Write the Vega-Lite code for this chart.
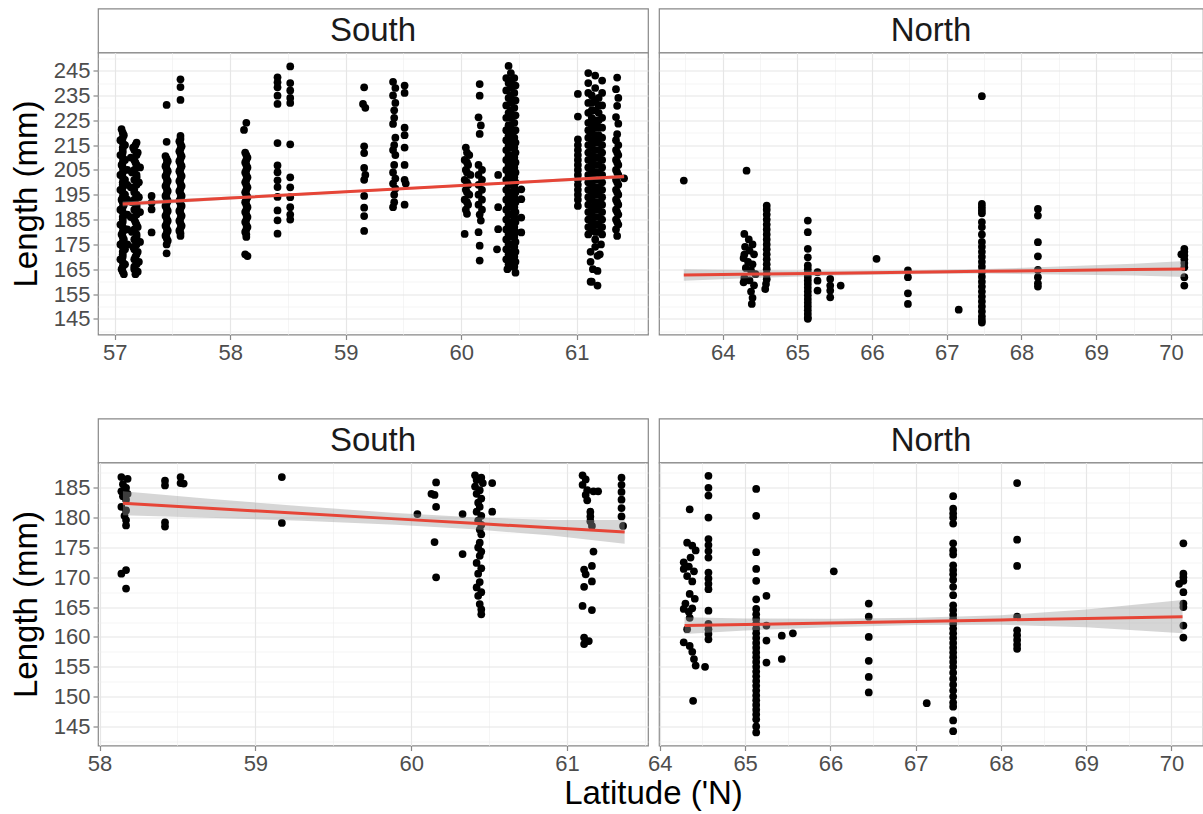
{
"$schema": "https://vega.github.io/schema/vega-lite/v6.json",
"padding": {"left": 9, "top": 7.5, "right": 0, "bottom": 0},
"background": "white",
"config": {
  "font": "Liberation Sans",
  "view": {"stroke": "#888888", "strokeWidth": 1.2, "fill": "white"},
  "axis": {"labelFont": "Liberation Sans", "labelFontSize": 22, "labelColor": "#4d4d4d", "tickColor": "#888888", "tickSize": 5, "tickWidth": 1.2, "domain": false, "grid": true, "labelOverlap": false, "labelFlush": false, "labelPadding": 3, "titleFont": "Liberation Sans", "titleFontSize": 33, "titleFontWeight": "normal", "titleColor": "#000000"}
},
"datasets": {
"tl": [
{"lat":57.06,"len":221.4},{"lat":57.08,"len":219},{"lat":57.05,"len":217},{"lat":57.09,"len":215},{"lat":57.07,"len":213},{"lat":57.05,"len":211},{"lat":57.09,"len":209},{"lat":57.06,"len":207},{"lat":57.08,"len":205},{"lat":57.05,"len":203},{"lat":57.09,"len":201},{"lat":57.07,"len":199},{"lat":57.05,"len":197},{"lat":57.09,"len":195},{"lat":57.06,"len":193},{"lat":57.08,"len":191},{"lat":57.05,"len":189},{"lat":57.09,"len":187},{"lat":57.07,"len":185},{"lat":57.05,"len":183},{"lat":57.09,"len":181},{"lat":57.06,"len":179},{"lat":57.08,"len":177},{"lat":57.05,"len":175},{"lat":57.09,"len":173},{"lat":57.07,"len":171},{"lat":57.05,"len":169},{"lat":57.09,"len":167},{"lat":57.06,"len":165},{"lat":57.08,"len":163},
{"lat":57.07,"len":164},{"lat":57.07,"len":166},{"lat":57.07,"len":168},{"lat":57.07,"len":170},{"lat":57.07,"len":172},{"lat":57.07,"len":174},{"lat":57.07,"len":176},{"lat":57.07,"len":178},{"lat":57.07,"len":180},{"lat":57.07,"len":182},{"lat":57.07,"len":184},{"lat":57.07,"len":186},{"lat":57.07,"len":188},{"lat":57.07,"len":190},{"lat":57.07,"len":192},{"lat":57.07,"len":194},{"lat":57.07,"len":196},{"lat":57.07,"len":198},{"lat":57.07,"len":200},{"lat":57.07,"len":202},{"lat":57.07,"len":204},{"lat":57.07,"len":206},{"lat":57.07,"len":208},{"lat":57.07,"len":210},{"lat":57.07,"len":212},{"lat":57.07,"len":214},{"lat":57.07,"len":216},{"lat":57.07,"len":218},{"lat":57.07,"len":220},
{"lat":57.19,"len":216},{"lat":57.16,"len":214},{"lat":57.2,"len":212},{"lat":57.14,"len":210},{"lat":57.18,"len":208},{"lat":57.22,"len":206},{"lat":57.15,"len":204},{"lat":57.19,"len":202},{"lat":57.21,"len":200},{"lat":57.14,"len":198},{"lat":57.17,"len":196},{"lat":57.21,"len":194},{"lat":57.15,"len":192},{"lat":57.19,"len":190},{"lat":57.22,"len":188},{"lat":57.14,"len":186},{"lat":57.18,"len":184},{"lat":57.2,"len":182},{"lat":57.15,"len":180},{"lat":57.19,"len":178},{"lat":57.22,"len":176},{"lat":57.16,"len":174},{"lat":57.2,"len":172},{"lat":57.18,"len":170},{"lat":57.21,"len":168},{"lat":57.17,"len":166},{"lat":57.2,"len":164},{"lat":57.18,"len":163},
{"lat":57.17,"len":165},{"lat":57.19,"len":167},{"lat":57.17,"len":169},{"lat":57.19,"len":171},{"lat":57.17,"len":173},{"lat":57.19,"len":175},{"lat":57.17,"len":177},{"lat":57.19,"len":179},{"lat":57.17,"len":181},{"lat":57.19,"len":183},{"lat":57.17,"len":185},{"lat":57.19,"len":187},{"lat":57.17,"len":189},{"lat":57.19,"len":191},{"lat":57.17,"len":193},{"lat":57.19,"len":195},{"lat":57.17,"len":197},{"lat":57.19,"len":199},{"lat":57.17,"len":201},{"lat":57.19,"len":203},{"lat":57.17,"len":205},{"lat":57.19,"len":207},{"lat":57.17,"len":209},{"lat":57.19,"len":211},{"lat":57.17,"len":213},{"lat":57.18,"len":215},
{"lat":57.11,"len":205},{"lat":57.11,"len":199},{"lat":57.11,"len":193},{"lat":57.11,"len":187},{"lat":57.11,"len":181},{"lat":57.11,"len":175},
{"lat":57.32,"len":194.5},{"lat":57.32,"len":191.8},{"lat":57.32,"len":189.1},{"lat":57.32,"len":179.8},
{"lat":57.45,"len":231.2},{"lat":57.45,"len":216.3},{"lat":57.44,"len":210.6},{"lat":57.46,"len":208.5},{"lat":57.44,"len":206.5},{"lat":57.46,"len":204.5},{"lat":57.44,"len":202.5},{"lat":57.46,"len":200.5},{"lat":57.44,"len":198.5},{"lat":57.46,"len":196.5},{"lat":57.44,"len":194.5},{"lat":57.46,"len":192.5},{"lat":57.44,"len":190.5},{"lat":57.46,"len":188.5},{"lat":57.44,"len":186.5},{"lat":57.46,"len":184.5},{"lat":57.44,"len":182.5},{"lat":57.46,"len":180.5},{"lat":57.44,"len":178.5},{"lat":57.46,"len":176.5},{"lat":57.45,"len":175},{"lat":57.45,"len":171.4},
{"lat":57.45,"len":209.5},{"lat":57.45,"len":207.5},{"lat":57.45,"len":205.5},{"lat":57.45,"len":203.5},{"lat":57.45,"len":201.5},{"lat":57.45,"len":199.5},{"lat":57.45,"len":197.5},{"lat":57.45,"len":195.5},{"lat":57.45,"len":193.5},{"lat":57.45,"len":191.5},{"lat":57.45,"len":189.5},{"lat":57.45,"len":187.5},{"lat":57.45,"len":185.5},{"lat":57.45,"len":183.5},{"lat":57.45,"len":181.5},{"lat":57.45,"len":179.5},{"lat":57.45,"len":177.5},
{"lat":57.57,"len":241.5},{"lat":57.57,"len":238.4},{"lat":57.57,"len":233.2},{"lat":57.57,"len":218.7},{"lat":57.56,"len":216.5},{"lat":57.58,"len":214.5},{"lat":57.56,"len":212.5},{"lat":57.58,"len":210.5},{"lat":57.56,"len":208.5},{"lat":57.58,"len":206.5},{"lat":57.56,"len":204.5},{"lat":57.58,"len":202.5},{"lat":57.56,"len":200.5},{"lat":57.58,"len":198.5},{"lat":57.56,"len":196.5},{"lat":57.58,"len":194.5},{"lat":57.56,"len":192.5},{"lat":57.58,"len":190.5},{"lat":57.56,"len":188.5},{"lat":57.58,"len":186.5},{"lat":57.56,"len":184.5},{"lat":57.58,"len":182.5},{"lat":57.56,"len":180.5},{"lat":57.57,"len":178.4},
{"lat":57.57,"len":217.5},{"lat":57.57,"len":215.5},{"lat":57.57,"len":213.5},{"lat":57.57,"len":211.5},{"lat":57.57,"len":209.5},{"lat":57.57,"len":207.5},{"lat":57.57,"len":205.5},{"lat":57.57,"len":203.5},{"lat":57.57,"len":201.5},{"lat":57.57,"len":199.5},{"lat":57.57,"len":197.5},{"lat":57.57,"len":195.5},{"lat":57.57,"len":193.5},{"lat":57.57,"len":191.5},{"lat":57.57,"len":189.5},{"lat":57.57,"len":187.5},{"lat":57.57,"len":185.5},{"lat":57.57,"len":183.5},{"lat":57.57,"len":181.5},{"lat":57.57,"len":179.5},
{"lat":58.14,"len":224},{"lat":58.12,"len":221.1},{"lat":58.13,"len":212},{"lat":58.15,"len":210},{"lat":58.13,"len":208},{"lat":58.15,"len":206},{"lat":58.13,"len":204},{"lat":58.15,"len":202},{"lat":58.13,"len":200},{"lat":58.15,"len":198},{"lat":58.13,"len":196},{"lat":58.15,"len":194},{"lat":58.13,"len":192},{"lat":58.15,"len":190},{"lat":58.13,"len":188},{"lat":58.15,"len":186},{"lat":58.13,"len":184},{"lat":58.15,"len":182},{"lat":58.13,"len":180},{"lat":58.14,"len":178},{"lat":58.13,"len":171},{"lat":58.15,"len":170.3},
{"lat":58.14,"len":211},{"lat":58.14,"len":209},{"lat":58.14,"len":207},{"lat":58.14,"len":205},{"lat":58.14,"len":203},{"lat":58.14,"len":201},{"lat":58.14,"len":199},{"lat":58.14,"len":197},{"lat":58.14,"len":195},{"lat":58.14,"len":193},{"lat":58.14,"len":191},{"lat":58.14,"len":189},{"lat":58.14,"len":187},{"lat":58.14,"len":185},{"lat":58.14,"len":183},{"lat":58.14,"len":181},{"lat":58.14,"len":179},
{"lat":58.41,"len":242.3},{"lat":58.41,"len":240.3},{"lat":58.41,"len":238.3},{"lat":58.41,"len":234.9},{"lat":58.41,"len":231.6},{"lat":58.41,"len":215.8},{"lat":58.41,"len":206.8},{"lat":58.41,"len":204.1},{"lat":58.41,"len":200.8},{"lat":58.41,"len":198.1},{"lat":58.41,"len":194.1},{"lat":58.41,"len":188.7},{"lat":58.41,"len":184.7},{"lat":58.41,"len":179.3},
{"lat":58.52,"len":246.7},{"lat":58.52,"len":240},{"lat":58.52,"len":237},{"lat":58.52,"len":234},{"lat":58.52,"len":232},{"lat":58.52,"len":215.3},{"lat":58.52,"len":202},{"lat":58.52,"len":198},{"lat":58.52,"len":194},{"lat":58.52,"len":190},{"lat":58.52,"len":187},{"lat":58.52,"len":185},
{"lat":59.16,"len":238.3},{"lat":59.15,"len":231.6},{"lat":59.17,"len":230},{"lat":59.16,"len":214.5},{"lat":59.16,"len":211.8},{"lat":59.16,"len":205.8},{"lat":59.17,"len":203},{"lat":59.16,"len":201},{"lat":59.16,"len":194.5},{"lat":59.16,"len":189.8},{"lat":59.16,"len":186.4},{"lat":59.16,"len":180.4},
{"lat":59.41,"len":240.5},{"lat":59.43,"len":238},{"lat":59.41,"len":235},{"lat":59.43,"len":232},{"lat":59.42,"len":229},{"lat":59.42,"len":226},{"lat":59.41,"len":223.5},{"lat":59.43,"len":218},{"lat":59.42,"len":215},{"lat":59.41,"len":213},{"lat":59.43,"len":211},{"lat":59.42,"len":207},{"lat":59.41,"len":204},{"lat":59.43,"len":201.5},{"lat":59.41,"len":199.5},{"lat":59.43,"len":197.5},{"lat":59.42,"len":195},{"lat":59.42,"len":192},{"lat":59.41,"len":190},
{"lat":59.51,"len":239},{"lat":59.51,"len":236},{"lat":59.51,"len":222},{"lat":59.51,"len":219},{"lat":59.51,"len":214},{"lat":59.51,"len":207},{"lat":59.51,"len":201},{"lat":59.52,"len":199.5},{"lat":59.51,"len":191},
{"lat":60.04,"len":214},{"lat":60.07,"len":211},{"lat":60.03,"len":209},{"lat":60.06,"len":207},{"lat":60.04,"len":205},{"lat":60.08,"len":203},{"lat":60.03,"len":201},{"lat":60.06,"len":199},{"lat":60.04,"len":197},{"lat":60.07,"len":195},{"lat":60.03,"len":193},{"lat":60.06,"len":191},{"lat":60.04,"len":189},{"lat":60.05,"len":187.3},{"lat":60.03,"len":179.2},
{"lat":60.05,"len":212},{"lat":60.05,"len":208},{"lat":60.05,"len":204},{"lat":60.05,"len":200},{"lat":60.05,"len":196},{"lat":60.05,"len":192},
{"lat":60.16,"len":239.6},{"lat":60.16,"len":234.9},{"lat":60.15,"len":226.2},{"lat":60.17,"len":222.9},{"lat":60.16,"len":219.5},{"lat":60.15,"len":207},{"lat":60.18,"len":205},{"lat":60.15,"len":203},{"lat":60.18,"len":201},{"lat":60.15,"len":199},{"lat":60.18,"len":197},{"lat":60.15,"len":195},{"lat":60.18,"len":193},{"lat":60.15,"len":191},{"lat":60.18,"len":189},{"lat":60.16,"len":187},{"lat":60.17,"len":184.6},{"lat":60.15,"len":179.9},{"lat":60.16,"len":174.5},{"lat":60.16,"len":168.5},
{"lat":60.32,"len":203},{"lat":60.32,"len":190},{"lat":60.32,"len":181.1},{"lat":60.31,"len":173},
{"lat":60.41,"len":246.9},{"lat":60.39,"len":242},{"lat":60.41,"len":240},{"lat":60.39,"len":237},{"lat":60.41,"len":234},{"lat":60.39,"len":231},{"lat":60.41,"len":228},{"lat":60.39,"len":226},{"lat":60.41,"len":223},{"lat":60.39,"len":221},{"lat":60.41,"len":219},{"lat":60.39,"len":217},{"lat":60.41,"len":215},{"lat":60.39,"len":213},{"lat":60.41,"len":211},{"lat":60.39,"len":209},{"lat":60.41,"len":207},{"lat":60.39,"len":205},{"lat":60.41,"len":203},{"lat":60.39,"len":201},{"lat":60.41,"len":199},{"lat":60.39,"len":197},{"lat":60.41,"len":195},{"lat":60.39,"len":193},{"lat":60.41,"len":191},{"lat":60.39,"len":189},{"lat":60.41,"len":187},{"lat":60.39,"len":185},{"lat":60.41,"len":183},{"lat":60.39,"len":181},{"lat":60.41,"len":179},{"lat":60.39,"len":177},{"lat":60.41,"len":175},{"lat":60.39,"len":173},{"lat":60.41,"len":171},{"lat":60.39,"len":169},{"lat":60.41,"len":167},{"lat":60.4,"len":165},
{"lat":60.46,"len":242},{"lat":60.47,"len":239},{"lat":60.46,"len":236},{"lat":60.47,"len":233},{"lat":60.46,"len":230},{"lat":60.47,"len":227},{"lat":60.46,"len":224},{"lat":60.47,"len":221},{"lat":60.46,"len":218},{"lat":60.47,"len":216},{"lat":60.46,"len":214},{"lat":60.47,"len":212},{"lat":60.46,"len":210},{"lat":60.47,"len":208},{"lat":60.46,"len":206},{"lat":60.47,"len":204},{"lat":60.46,"len":202},{"lat":60.47,"len":200},{"lat":60.46,"len":198},{"lat":60.47,"len":196},{"lat":60.46,"len":194},{"lat":60.47,"len":192},{"lat":60.46,"len":190},{"lat":60.47,"len":188},{"lat":60.46,"len":186},{"lat":60.47,"len":184},{"lat":60.46,"len":182},{"lat":60.47,"len":180},{"lat":60.46,"len":178},{"lat":60.47,"len":176},{"lat":60.46,"len":174},{"lat":60.47,"len":172},{"lat":60.46,"len":170},{"lat":60.47,"len":168},{"lat":60.46,"len":166},{"lat":60.47,"len":163.6},
{"lat":60.43,"len":166},{"lat":60.43,"len":169},{"lat":60.43,"len":172},{"lat":60.43,"len":175},{"lat":60.43,"len":178},{"lat":60.43,"len":181},{"lat":60.43,"len":184},{"lat":60.43,"len":187},{"lat":60.43,"len":190},{"lat":60.43,"len":193},{"lat":60.43,"len":196},{"lat":60.43,"len":199},{"lat":60.43,"len":202},{"lat":60.43,"len":205},{"lat":60.43,"len":208},{"lat":60.43,"len":211},{"lat":60.43,"len":214},{"lat":60.43,"len":217},{"lat":60.43,"len":220},{"lat":60.43,"len":223},{"lat":60.43,"len":226},{"lat":60.43,"len":229},{"lat":60.43,"len":232},{"lat":60.43,"len":235},{"lat":60.43,"len":238},{"lat":60.43,"len":241},{"lat":60.43,"len":244},
{"lat":60.52,"len":197.2},{"lat":60.52,"len":193.2},{"lat":60.52,"len":185.8},{"lat":60.52,"len":179.8},
{"lat":61.01,"len":235.6},{"lat":61.01,"len":226.5},{"lat":61.01,"len":217.3},{"lat":61.01,"len":215},{"lat":61.01,"len":213},{"lat":61.01,"len":211},{"lat":61.01,"len":209},{"lat":61.01,"len":207},{"lat":61.01,"len":205},{"lat":61.01,"len":203},{"lat":61.01,"len":201},{"lat":61.01,"len":199},{"lat":61.01,"len":197},{"lat":61.01,"len":195},{"lat":61.01,"len":193},{"lat":61.01,"len":190.5},
{"lat":61.1,"len":244},{"lat":61.1,"len":240},{"lat":61.1,"len":236},{"lat":61.1,"len":232},{"lat":61.1,"len":228},{"lat":61.1,"len":224},{"lat":61.1,"len":221},{"lat":61.1,"len":218},{"lat":61.1,"len":215},{"lat":61.1,"len":212},{"lat":61.1,"len":209},{"lat":61.1,"len":206},{"lat":61.1,"len":203},{"lat":61.1,"len":200},{"lat":61.1,"len":197},{"lat":61.1,"len":194},{"lat":61.1,"len":191},{"lat":61.1,"len":188},{"lat":61.1,"len":185},{"lat":61.1,"len":182},{"lat":61.1,"len":179},{"lat":61.12,"len":172},{"lat":61.12,"len":168},{"lat":61.12,"len":160},
{"lat":61.13,"len":181},{"lat":61.13,"len":184},{"lat":61.13,"len":187},{"lat":61.13,"len":190},{"lat":61.13,"len":193},{"lat":61.13,"len":196},{"lat":61.13,"len":199},{"lat":61.13,"len":202},{"lat":61.13,"len":205},{"lat":61.13,"len":208},{"lat":61.13,"len":211},{"lat":61.13,"len":214},{"lat":61.13,"len":217},{"lat":61.13,"len":220},{"lat":61.13,"len":223},{"lat":61.13,"len":226},{"lat":61.13,"len":229},{"lat":61.13,"len":232},{"lat":61.13,"len":235},
{"lat":61.16,"len":243},{"lat":61.16,"len":238},{"lat":61.16,"len":233},{"lat":61.16,"len":229},{"lat":61.16,"len":225},{"lat":61.16,"len":222},{"lat":61.16,"len":219},{"lat":61.16,"len":216},{"lat":61.16,"len":213},{"lat":61.16,"len":210},{"lat":61.16,"len":207},{"lat":61.16,"len":204},{"lat":61.16,"len":201},{"lat":61.16,"len":198},{"lat":61.16,"len":195},{"lat":61.16,"len":192},{"lat":61.16,"len":189},{"lat":61.16,"len":186},{"lat":61.16,"len":183},{"lat":61.16,"len":180},{"lat":61.16,"len":177},{"lat":61.16,"len":174},{"lat":61.18,"len":170.4},{"lat":61.18,"len":164.3},{"lat":61.18,"len":158.4},
{"lat":61.19,"len":180},{"lat":61.19,"len":183},{"lat":61.19,"len":186},{"lat":61.19,"len":189},{"lat":61.19,"len":192},{"lat":61.19,"len":195},{"lat":61.19,"len":198},{"lat":61.19,"len":201},{"lat":61.19,"len":204},{"lat":61.19,"len":207},{"lat":61.19,"len":210},{"lat":61.19,"len":213},{"lat":61.19,"len":216},{"lat":61.19,"len":219},{"lat":61.19,"len":222},{"lat":61.19,"len":225},{"lat":61.19,"len":228},{"lat":61.19,"len":231},{"lat":61.19,"len":234},
{"lat":61.22,"len":241},{"lat":61.22,"len":236},{"lat":61.22,"len":231},{"lat":61.22,"len":226},{"lat":61.22,"len":222},{"lat":61.22,"len":218},{"lat":61.22,"len":215},{"lat":61.22,"len":212},{"lat":61.22,"len":209},{"lat":61.22,"len":206},{"lat":61.22,"len":203},{"lat":61.22,"len":200},{"lat":61.22,"len":197},{"lat":61.22,"len":194},{"lat":61.22,"len":191},{"lat":61.22,"len":188},{"lat":61.22,"len":185},{"lat":61.22,"len":182},{"lat":61.22,"len":179},{"lat":61.21,"len":175},{"lat":61.2,"len":171},{"lat":61.14,"len":165},{"lat":61.13,"len":160},
{"lat":61.35,"len":242.2},{"lat":61.34,"len":237.5},{"lat":61.36,"len":234},{"lat":61.35,"len":230.8},{"lat":61.34,"len":226.3},{"lat":61.36,"len":223.6},{"lat":61.35,"len":219.4},{"lat":61.34,"len":217},{"lat":61.36,"len":215},{"lat":61.34,"len":213},{"lat":61.36,"len":211},{"lat":61.34,"len":209},{"lat":61.36,"len":207},{"lat":61.34,"len":205},{"lat":61.36,"len":203},{"lat":61.34,"len":201},{"lat":61.36,"len":199},{"lat":61.34,"len":197},{"lat":61.36,"len":195},{"lat":61.34,"len":193},{"lat":61.36,"len":191},{"lat":61.34,"len":189},{"lat":61.36,"len":187},{"lat":61.34,"len":185},{"lat":61.36,"len":183},{"lat":61.34,"len":181},{"lat":61.35,"len":178.4},{"lat":61.41,"len":201.6},
{"lat":61.35,"len":212},{"lat":61.35,"len":208},{"lat":61.35,"len":204},{"lat":61.35,"len":200},{"lat":61.35,"len":196},{"lat":61.35,"len":192},{"lat":61.35,"len":188},{"lat":61.35,"len":184}
],
"tr": [
{"lat":63.48,"len":200.7},{"lat":64.32,"len":204.7},
{"lat":64.29,"len":179.2},{"lat":64.35,"len":177},{"lat":64.4,"len":175},{"lat":64.3,"len":174},{"lat":64.36,"len":172.5},{"lat":64.42,"len":171},{"lat":64.29,"len":170.9},{"lat":64.28,"len":169.5},{"lat":64.34,"len":168},{"lat":64.4,"len":167},{"lat":64.31,"len":165.5},{"lat":64.38,"len":164.5},{"lat":64.44,"len":163},{"lat":64.29,"len":161.5},{"lat":64.36,"len":160.5},{"lat":64.28,"len":159.7},{"lat":64.42,"len":158.5},{"lat":64.38,"len":156},{"lat":64.4,"len":153.5},{"lat":64.39,"len":151},
{"lat":64.59,"len":190.6},{"lat":64.59,"len":189},{"lat":64.59,"len":187},{"lat":64.59,"len":185},{"lat":64.59,"len":183},{"lat":64.59,"len":181},{"lat":64.59,"len":179},{"lat":64.59,"len":177},{"lat":64.59,"len":175},{"lat":64.59,"len":173},{"lat":64.59,"len":171},{"lat":64.59,"len":169},{"lat":64.59,"len":167},{"lat":64.59,"len":165},{"lat":64.59,"len":163},{"lat":64.59,"len":161},{"lat":64.58,"len":159},{"lat":64.57,"len":157},
{"lat":65.14,"len":184.6},{"lat":65.14,"len":179.9},{"lat":65.14,"len":173.2},{"lat":65.14,"len":169.8},{"lat":65.14,"len":166.5},{"lat":65.14,"len":165},{"lat":65.14,"len":163.5},{"lat":65.14,"len":162},{"lat":65.14,"len":160.5},{"lat":65.14,"len":159},{"lat":65.14,"len":157.5},{"lat":65.14,"len":156},{"lat":65.14,"len":154.5},{"lat":65.14,"len":153},{"lat":65.14,"len":151.5},{"lat":65.14,"len":150},{"lat":65.14,"len":148.5},{"lat":65.14,"len":147},{"lat":65.14,"len":145.5},{"lat":65.14,"len":145},
{"lat":65.27,"len":163.8},{"lat":65.27,"len":160.4},{"lat":65.27,"len":156.4},
{"lat":65.44,"len":161.1},{"lat":65.44,"len":158.4},{"lat":65.44,"len":156.4},{"lat":65.44,"len":153.7},
{"lat":65.58,"len":158.4},{"lat":66.06,"len":169.2},
{"lat":66.48,"len":164.5},{"lat":66.48,"len":161.8},{"lat":66.48,"len":155.3},{"lat":66.48,"len":151},
{"lat":67.16,"len":148.7},
{"lat":67.47,"len":234.7},{"lat":67.47,"len":191.3},{"lat":67.47,"len":190},{"lat":67.47,"len":188.7},{"lat":67.47,"len":187.5},{"lat":67.47,"len":184},{"lat":67.47,"len":182},{"lat":67.47,"len":179},{"lat":67.47,"len":176},{"lat":67.47,"len":174},{"lat":67.47,"len":172},{"lat":67.47,"len":170},{"lat":67.47,"len":168},{"lat":67.47,"len":166},{"lat":67.47,"len":164},{"lat":67.47,"len":162},{"lat":67.47,"len":160},{"lat":67.47,"len":158},{"lat":67.47,"len":156},{"lat":67.47,"len":154},{"lat":67.47,"len":152},{"lat":67.47,"len":150},{"lat":67.47,"len":148},{"lat":67.47,"len":146},{"lat":67.47,"len":144.5},{"lat":67.47,"len":143.5},
{"lat":68.22,"len":189.3},{"lat":68.22,"len":186.6},{"lat":68.22,"len":175.9},{"lat":68.22,"len":170.2},{"lat":68.22,"len":164.7},{"lat":68.22,"len":161.8},{"lat":68.22,"len":159.3},{"lat":68.22,"len":158},
{"lat":70.18,"len":173.2},{"lat":70.18,"len":172},{"lat":70.14,"len":171},{"lat":70.18,"len":170.5},{"lat":70.18,"len":169},{"lat":70.18,"len":167.5},{"lat":70.18,"len":165.8},{"lat":70.18,"len":161.8},{"lat":70.18,"len":158.4}
],
"bl": [
{"lat":58.14,"len":186.8},{"lat":58.18,"len":186.5},{"lat":58.15,"len":185.6},{"lat":58.17,"len":185},{"lat":58.14,"len":184.4},{"lat":58.18,"len":184},{"lat":58.15,"len":183.6},{"lat":58.17,"len":183},{"lat":58.14,"len":181.8},{"lat":58.17,"len":181.2},{"lat":58.16,"len":180.3},{"lat":58.17,"len":179.6},{"lat":58.17,"len":178.7},{"lat":58.14,"len":170.6},{"lat":58.17,"len":171.2},{"lat":58.17,"len":168.1},
{"lat":58.42,"len":186.2},{"lat":58.42,"len":185.4},{"lat":58.42,"len":179.2},{"lat":58.42,"len":178.5},
{"lat":58.52,"len":186.8},{"lat":58.52,"len":185.8},{"lat":58.54,"len":185.7},
{"lat":59.17,"len":186.8},{"lat":59.17,"len":179.1},
{"lat":60.04,"len":180.6},
{"lat":60.16,"len":185.9},{"lat":60.13,"len":184},{"lat":60.15,"len":183.8},{"lat":60.16,"len":181.8},{"lat":60.15,"len":175.9},{"lat":60.16,"len":170},
{"lat":60.33,"len":180.6},{"lat":60.33,"len":173.9},
{"lat":60.41,"len":187.1},{"lat":60.45,"len":186.7},{"lat":60.42,"len":186.3},{"lat":60.46,"len":185.8},{"lat":60.41,"len":185.2},{"lat":60.44,"len":184.6},{"lat":60.42,"len":184},{"lat":60.45,"len":183.2},{"lat":60.43,"len":182.5},{"lat":60.44,"len":181.8},{"lat":60.42,"len":181},{"lat":60.45,"len":180.3},{"lat":60.43,"len":179.5},{"lat":60.45,"len":178.8},{"lat":60.44,"len":178},{"lat":60.45,"len":177.2},{"lat":60.44,"len":175.8},{"lat":60.43,"len":175},{"lat":60.45,"len":174.3},{"lat":60.44,"len":173.6},{"lat":60.42,"len":172.4},{"lat":60.45,"len":171.5},{"lat":60.43,"len":170.6},{"lat":60.44,"len":169.2},{"lat":60.42,"len":168.3},{"lat":60.45,"len":167.5},{"lat":60.43,"len":166.9},{"lat":60.44,"len":165.5},{"lat":60.45,"len":164.6},{"lat":60.45,"len":163.8},
{"lat":60.52,"len":185.8},{"lat":60.52,"len":181},
{"lat":61.1,"len":187.1},{"lat":61.12,"len":186.4},{"lat":61.1,"len":185.5},{"lat":61.13,"len":184.6},{"lat":61.17,"len":184.4},{"lat":61.2,"len":184.4},{"lat":61.12,"len":183.8},{"lat":61.13,"len":182.9},{"lat":61.15,"len":181},{"lat":61.15,"len":180.2},{"lat":61.15,"len":179.4},{"lat":61.16,"len":178.6},{"lat":61.17,"len":174.3},{"lat":61.16,"len":171.9},{"lat":61.11,"len":171.3},{"lat":61.12,"len":170.5},{"lat":61.16,"len":169.3},{"lat":61.11,"len":168.4},{"lat":61.1,"len":165.2},{"lat":61.16,"len":164.5},{"lat":61.11,"len":159.9},{"lat":61.14,"len":159.3},{"lat":61.11,"len":158.8},
{"lat":61.35,"len":186.7},{"lat":61.35,"len":185.5},{"lat":61.35,"len":184.3},{"lat":61.35,"len":183},{"lat":61.35,"len":181.6},{"lat":61.35,"len":180.2},{"lat":61.36,"len":178.6}
],
"br": [
{"lat":64.35,"len":181.4},{"lat":64.32,"len":175.8},{"lat":64.38,"len":175.3},{"lat":64.42,"len":174.5},{"lat":64.36,"len":173.3},{"lat":64.28,"len":172.5},{"lat":64.34,"len":171.8},{"lat":64.28,"len":171.4},{"lat":64.4,"len":171},{"lat":64.32,"len":170.2},{"lat":64.38,"len":169.3},{"lat":64.35,"len":167.2},{"lat":64.41,"len":166.4},{"lat":64.3,"len":165.6},{"lat":64.38,"len":164.8},{"lat":64.28,"len":164.7},{"lat":64.34,"len":164.2},{"lat":64.35,"len":163.2},{"lat":64.32,"len":161.3},{"lat":64.28,"len":159.1},{"lat":64.35,"len":158.5},{"lat":64.38,"len":157.5},{"lat":64.4,"len":156.3},{"lat":64.42,"len":155.2},{"lat":64.39,"len":149.3},
{"lat":64.57,"len":187},{"lat":64.57,"len":185},{"lat":64.57,"len":183.7},{"lat":64.57,"len":180},{"lat":64.57,"len":176.4},{"lat":64.57,"len":175.4},{"lat":64.57,"len":174.4},{"lat":64.57,"len":173.3},{"lat":64.57,"len":170.8},{"lat":64.57,"len":169.8},{"lat":64.57,"len":168.9},{"lat":64.57,"len":168},{"lat":64.57,"len":164.4},{"lat":64.57,"len":162.2},{"lat":64.57,"len":161.3},{"lat":64.57,"len":160.5},{"lat":64.57,"len":159.6},{"lat":64.53,"len":155},
{"lat":65.13,"len":184.8},{"lat":65.13,"len":180.3},{"lat":65.13,"len":174.2},{"lat":65.13,"len":171.4},{"lat":65.13,"len":169.4},{"lat":65.13,"len":166.3},{"lat":65.13,"len":164.7},{"lat":65.13,"len":163.8},{"lat":65.13,"len":163},{"lat":65.13,"len":162.2},{"lat":65.13,"len":161.4},{"lat":65.13,"len":160.6},{"lat":65.13,"len":159.8},{"lat":65.13,"len":159},{"lat":65.13,"len":158.2},{"lat":65.13,"len":157.4},{"lat":65.13,"len":156.6},{"lat":65.13,"len":155.8},{"lat":65.13,"len":155},{"lat":65.13,"len":154.2},{"lat":65.13,"len":153.4},{"lat":65.13,"len":152.6},{"lat":65.13,"len":151.8},{"lat":65.13,"len":151},{"lat":65.13,"len":150.2},{"lat":65.13,"len":149.4},{"lat":65.13,"len":148.6},{"lat":65.13,"len":147.8},{"lat":65.13,"len":147},{"lat":65.13,"len":146.2},{"lat":65.13,"len":145},{"lat":65.13,"len":144},
{"lat":65.25,"len":166.9},{"lat":65.25,"len":161.9},{"lat":65.25,"len":159.4},{"lat":65.25,"len":155.7},
{"lat":65.43,"len":160.2},{"lat":65.43,"len":156.3},{"lat":65.56,"len":160.6},
{"lat":66.04,"len":171},
{"lat":66.45,"len":165.6},{"lat":66.45,"len":163.4},{"lat":66.45,"len":160},{"lat":66.45,"len":156},{"lat":66.45,"len":153.3},{"lat":66.45,"len":150.7},
{"lat":67.13,"len":148.9},
{"lat":67.44,"len":183.6},{"lat":67.44,"len":181.5},{"lat":67.44,"len":180.7},{"lat":67.44,"len":180},{"lat":67.44,"len":179},{"lat":67.44,"len":175.7},{"lat":67.44,"len":174.5},{"lat":67.44,"len":173.8},{"lat":67.44,"len":172},{"lat":67.44,"len":171.2},{"lat":67.44,"len":170.5},{"lat":67.44,"len":169.6},{"lat":67.44,"len":168.4},{"lat":67.44,"len":167},{"lat":67.44,"len":165.3},{"lat":67.44,"len":164.5},{"lat":67.44,"len":163.7},{"lat":67.44,"len":163},{"lat":67.44,"len":162.2},{"lat":67.44,"len":161.4},{"lat":67.44,"len":160.6},{"lat":67.44,"len":159.8},{"lat":67.44,"len":159},{"lat":67.44,"len":158.2},{"lat":67.44,"len":157.4},{"lat":67.44,"len":156.6},{"lat":67.44,"len":155.8},{"lat":67.44,"len":155},{"lat":67.44,"len":154},{"lat":67.44,"len":153},{"lat":67.44,"len":152},{"lat":67.44,"len":151},{"lat":67.44,"len":150},{"lat":67.44,"len":149},{"lat":67.44,"len":148.3},{"lat":67.44,"len":146},{"lat":67.44,"len":144.2},
{"lat":68.19,"len":185.8},{"lat":68.19,"len":176.3},{"lat":68.19,"len":171.9},{"lat":68.19,"len":163.4},{"lat":68.19,"len":161.1},{"lat":68.19,"len":160.3},{"lat":68.19,"len":159.5},{"lat":68.19,"len":158.7},{"lat":68.19,"len":158},
{"lat":70.14,"len":175.7},{"lat":70.14,"len":170.6},{"lat":70.14,"len":170},{"lat":70.14,"len":169.4},{"lat":70.09,"len":168.9},{"lat":70.14,"len":167.5},{"lat":70.14,"len":165.6},{"lat":70.14,"len":165},{"lat":70.14,"len":161.9},{"lat":70.14,"len":159.9}
],
"fit": [
{"p":"tl","lat":57.07,"len":191.3,"lo":190.3,"hi":192.3},{"p":"tl","lat":58.0,"len":193.66,"lo":193.06,"hi":194.26},{"p":"tl","lat":59.2,"len":196.7,"lo":196.25,"hi":197.15},{"p":"tl","lat":60.4,"len":199.74,"lo":199.24,"hi":200.24},{"p":"tl","lat":61.41,"len":202.3,"lo":201.5,"hi":203.1},
{"p":"tr","lat":63.48,"len":162.7,"lo":160.4,"hi":165.0},{"p":"tr","lat":64.5,"len":163.06,"lo":161.56,"hi":164.56},{"p":"tr","lat":65.5,"len":163.42,"lo":162.42,"hi":164.42},{"p":"tr","lat":66.5,"len":163.78,"lo":162.98,"hi":164.58},{"p":"tr","lat":67.5,"len":164.14,"lo":163.24,"hi":165.04},{"p":"tr","lat":68.5,"len":164.5,"lo":162.9,"hi":166.1},{"p":"tr","lat":69.5,"len":164.85,"lo":162.45,"hi":167.25},{"p":"tr","lat":70.19,"len":165.1,"lo":161.9,"hi":168.3},
{"p":"bl","lat":58.15,"len":182.4,"lo":180.4,"hi":184.4},{"p":"bl","lat":58.7,"len":181.58,"lo":179.98,"hi":183.18},{"p":"bl","lat":59.3,"len":180.69,"lo":179.49,"hi":181.89},{"p":"bl","lat":59.9,"len":179.79,"lo":178.79,"hi":180.79},{"p":"bl","lat":60.4,"len":179.05,"lo":178.05,"hi":180.05},{"p":"bl","lat":60.9,"len":178.3,"lo":177.0,"hi":179.6},{"p":"bl","lat":61.37,"len":177.6,"lo":175.6,"hi":179.6},
{"p":"br","lat":64.29,"len":161.9,"lo":160.5,"hi":163.3},{"p":"br","lat":65.0,"len":162.08,"lo":161.08,"hi":163.08},{"p":"br","lat":66.0,"len":162.34,"lo":161.64,"hi":163.04},{"p":"br","lat":67.0,"len":162.6,"lo":162.0,"hi":163.2},{"p":"br","lat":68.0,"len":162.85,"lo":162.05,"hi":163.65},{"p":"br","lat":69.0,"len":163.11,"lo":161.61,"hi":164.61},{"p":"br","lat":70.13,"len":163.4,"lo":160.6,"hi":166.2}
]
},
"concat": [
{"width": 550, "height": 44, "data": {"values": [{"t": "South"}]}, "mark": {"type": "text", "fontSize": 33, "color": "#1a1a1a", "font": "Liberation Sans"}, "encoding": {"text": {"field": "t"}}, "view": {"fill": "white", "stroke": "#888888", "strokeWidth": 1.2}},
{"width": 544, "height": 44, "data": {"values": [{"t": "North"}]}, "mark": {"type": "text", "fontSize": 33, "color": "#1a1a1a", "font": "Liberation Sans"}, "encoding": {"text": {"field": "t"}}, "view": {"fill": "white", "stroke": "#888888", "strokeWidth": 1.2}},
{"width": 550, "height": 282,
 "resolve": {"axis": {"y": "independent"}},
 "encoding": {"x": {"field": "lat", "type": "quantitative", "scale": {"domain": [56.856, 61.617], "nice": false, "zero": false},
   "axis": {"title": null, "values": [57,57.5,58,58.5,59,59.5,60,60.5,61,61.5], "labelExpr": "datum.value % 1 === 0 ? datum.value : ''", "gridWidth": {"condition": {"test": "datum.value % 1 === 0", "value": 1.2}, "value": 0.6}, "gridColor": {"condition": {"test": "datum.value % 1 === 0", "value": "#e6e6e6"}, "value": "#efefef"}, "tickOpacity": {"condition": {"test": "datum.value % 1 === 0", "value": 1}, "value": 0}}}},
 "layer": [
  {"data": {"name": "tl"}, "mark": {"type": "circle", "size": 60, "color": "#000000", "opacity": 1},
   "encoding": {"y": {"field": "len", "type": "quantitative", "title": "Length (mm)", "scale": {"domain": [138.7, 252.3], "nice": false, "zero": false},
     "axis": {"values": [140,145,150,155,160,165,170,175,180,185,190,195,200,205,210,215,220,225,230,235,240,245,250], "titlePadding": 10, "labelExpr": "datum.value % 10 === 5 ? datum.value : ''", "gridWidth": {"condition": {"test": "datum.value % 10 === 5", "value": 1.2}, "value": 0.6}, "gridColor": {"condition": {"test": "datum.value % 10 === 5", "value": "#e6e6e6"}, "value": "#efefef"}, "tickOpacity": {"condition": {"test": "datum.value % 10 === 5", "value": 1}, "value": 0}}}}},
  {"data": {"name": "fit"}, "transform": [{"filter": "datum.p === 'tl'"}], "mark": {"type": "area", "color": "#999999", "opacity": 0.4},
   "encoding": {"y": {"field": "lo", "type": "quantitative", "axis": null}, "y2": {"field": "hi"}}},
  {"data": {"name": "fit"}, "transform": [{"filter": "datum.p === 'tl'"}], "mark": {"type": "line", "color": "#e64537", "strokeWidth": 3},
   "encoding": {"y": {"field": "len", "type": "quantitative", "axis": null}}}
 ]},
{"width": 544, "height": 282,
 "resolve": {"axis": {"y": "independent"}},
 "encoding": {"x": {"field": "lat", "type": "quantitative", "scale": {"domain": [63.148, 70.43], "nice": false, "zero": false},
   "axis": {"title": null, "values": [63.5,64,64.5,65,65.5,66,66.5,67,67.5,68,68.5,69,69.5,70], "labelExpr": "datum.value % 1 === 0 ? datum.value : ''", "gridWidth": {"condition": {"test": "datum.value % 1 === 0", "value": 1.2}, "value": 0.6}, "gridColor": {"condition": {"test": "datum.value % 1 === 0", "value": "#e6e6e6"}, "value": "#efefef"}, "tickOpacity": {"condition": {"test": "datum.value % 1 === 0", "value": 1}, "value": 0}}}},
 "layer": [
  {"data": {"name": "tr"}, "mark": {"type": "circle", "size": 60, "color": "#000000", "opacity": 1},
   "encoding": {"y": {"field": "len", "type": "quantitative", "title": null, "scale": {"domain": [138.7, 252.3], "nice": false, "zero": false},
     "axis": {"values": [140,145,150,155,160,165,170,175,180,185,190,195,200,205,210,215,220,225,230,235,240,245,250], "labels": false, "ticks": false, "gridWidth": {"condition": {"test": "datum.value % 10 === 5", "value": 1.2}, "value": 0.6}, "gridColor": {"condition": {"test": "datum.value % 10 === 5", "value": "#e6e6e6"}, "value": "#efefef"}}}}},
  {"data": {"name": "fit"}, "transform": [{"filter": "datum.p === 'tr'"}], "mark": {"type": "area", "color": "#999999", "opacity": 0.4},
   "encoding": {"y": {"field": "lo", "type": "quantitative", "axis": null}, "y2": {"field": "hi"}}},
  {"data": {"name": "fit"}, "transform": [{"filter": "datum.p === 'tr'"}], "mark": {"type": "line", "color": "#e64537", "strokeWidth": 3},
   "encoding": {"y": {"field": "len", "type": "quantitative", "axis": null}}}
 ]},
{"width": 550, "height": 84, "data": {"values": [{"t": ""}]}, "mark": {"type": "text"}, "encoding": {"text": {"field": "t"}}, "view": {"stroke": null, "fill": null}},
{"width": 544, "height": 84, "data": {"values": [{"t": ""}]}, "mark": {"type": "text"}, "encoding": {"text": {"field": "t"}}, "view": {"stroke": null, "fill": null}},
{"width": 550, "height": 44, "data": {"values": [{"t": "South"}]}, "mark": {"type": "text", "fontSize": 33, "color": "#1a1a1a", "font": "Liberation Sans"}, "encoding": {"text": {"field": "t"}}, "view": {"fill": "white", "stroke": "#888888", "strokeWidth": 1.2}},
{"width": 544, "height": 44, "data": {"values": [{"t": "North"}]}, "mark": {"type": "text", "fontSize": 33, "color": "#1a1a1a", "font": "Liberation Sans"}, "encoding": {"text": {"field": "t"}}, "view": {"fill": "white", "stroke": "#888888", "strokeWidth": 1.2}},
{"width": 550, "height": 283,
 "resolve": {"axis": {"y": "independent"}},
 "encoding": {"x": {"field": "lat", "type": "quantitative", "scale": {"domain": [57.99, 61.52], "nice": false, "zero": false},
   "axis": {"title": "Latitude ('N)", "titleX": 555, "titleAlign": "center", "titlePadding": 3, "values": [58,58.5,59,59.5,60,60.5,61,61.5], "labelExpr": "datum.value % 1 === 0 ? datum.value : ''", "gridWidth": {"condition": {"test": "datum.value % 1 === 0", "value": 1.2}, "value": 0.6}, "gridColor": {"condition": {"test": "datum.value % 1 === 0", "value": "#e6e6e6"}, "value": "#efefef"}, "tickOpacity": {"condition": {"test": "datum.value % 1 === 0", "value": 1}, "value": 0}}}},
 "layer": [
  {"data": {"name": "bl"}, "mark": {"type": "circle", "size": 60, "color": "#000000", "opacity": 1},
   "encoding": {"y": {"field": "len", "type": "quantitative", "title": "Length (mm)", "scale": {"domain": [141.8, 189.24], "nice": false, "zero": false},
     "axis": {"values": [142.5,145,147.5,150,152.5,155,157.5,160,162.5,165,167.5,170,172.5,175,177.5,180,182.5,185,187.5], "titlePadding": 10, "labelExpr": "datum.value % 5 === 0 ? datum.value : ''", "gridWidth": {"condition": {"test": "datum.value % 5 === 0", "value": 1.2}, "value": 0.6}, "gridColor": {"condition": {"test": "datum.value % 5 === 0", "value": "#e6e6e6"}, "value": "#efefef"}, "tickOpacity": {"condition": {"test": "datum.value % 5 === 0", "value": 1}, "value": 0}}}}},
  {"data": {"name": "fit"}, "transform": [{"filter": "datum.p === 'bl'"}], "mark": {"type": "area", "color": "#999999", "opacity": 0.4},
   "encoding": {"y": {"field": "lo", "type": "quantitative", "axis": null}, "y2": {"field": "hi"}}},
  {"data": {"name": "fit"}, "transform": [{"filter": "datum.p === 'bl'"}], "mark": {"type": "line", "color": "#e64537", "strokeWidth": 3},
   "encoding": {"y": {"field": "len", "type": "quantitative", "axis": null}}}
 ]},
{"width": 544, "height": 283,
 "resolve": {"axis": {"y": "independent"}},
 "encoding": {"x": {"field": "lat", "type": "quantitative", "scale": {"domain": [63.99, 70.37], "nice": false, "zero": false},
   "axis": {"title": null, "values": [64,64.5,65,65.5,66,66.5,67,67.5,68,68.5,69,69.5,70], "labelExpr": "datum.value % 1 === 0 ? datum.value : ''", "gridWidth": {"condition": {"test": "datum.value % 1 === 0", "value": 1.2}, "value": 0.6}, "gridColor": {"condition": {"test": "datum.value % 1 === 0", "value": "#e6e6e6"}, "value": "#efefef"}, "tickOpacity": {"condition": {"test": "datum.value % 1 === 0", "value": 1}, "value": 0}}}},
 "layer": [
  {"data": {"name": "br"}, "mark": {"type": "circle", "size": 60, "color": "#000000", "opacity": 1},
   "encoding": {"y": {"field": "len", "type": "quantitative", "title": null, "scale": {"domain": [141.8, 189.24], "nice": false, "zero": false},
     "axis": {"values": [142.5,145,147.5,150,152.5,155,157.5,160,162.5,165,167.5,170,172.5,175,177.5,180,182.5,185,187.5], "labels": false, "ticks": false, "gridWidth": {"condition": {"test": "datum.value % 5 === 0", "value": 1.2}, "value": 0.6}, "gridColor": {"condition": {"test": "datum.value % 5 === 0", "value": "#e6e6e6"}, "value": "#efefef"}}}}},
  {"data": {"name": "fit"}, "transform": [{"filter": "datum.p === 'br'"}], "mark": {"type": "area", "color": "#999999", "opacity": 0.4},
   "encoding": {"y": {"field": "lo", "type": "quantitative", "axis": null}, "y2": {"field": "hi"}}},
  {"data": {"name": "fit"}, "transform": [{"filter": "datum.p === 'br'"}], "mark": {"type": "line", "color": "#e64537", "strokeWidth": 3},
   "encoding": {"y": {"field": "len", "type": "quantitative", "axis": null}}}
 ]}
],
"columns": 2,
"spacing": {"row": 0, "column": 11},
"bounds": "flush",
"align": "each"
}
